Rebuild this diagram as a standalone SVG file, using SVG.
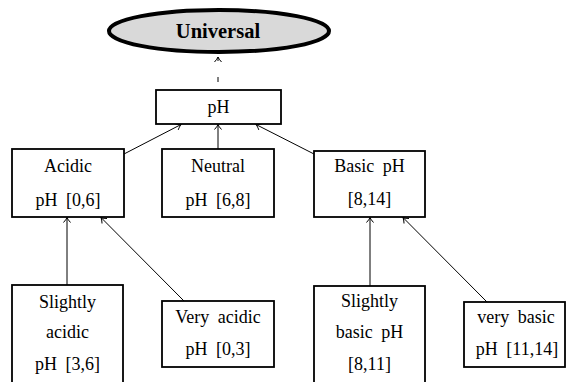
<svg xmlns="http://www.w3.org/2000/svg" width="568" height="382" viewBox="0 0 568 382">
<style>
.box{fill:#fff;stroke:#000;stroke-width:1.8}
.t{font-family:"Liberation Serif","Times New Roman",serif;font-size:18px;text-anchor:middle;fill:#000;word-spacing:4px}
.c{fill:none;stroke:#000;stroke-width:1}
</style>
<defs>
<marker id="ah" viewBox="-6 -5 8 10" markerWidth="8" markerHeight="10" refX="0" refY="0" orient="auto" markerUnits="userSpaceOnUse">
<path d="M-5,-3.5 Q-2,-0.8 0,0 Q-2,0.8 -5,3.5" fill="none" stroke="#000" stroke-width="1"/>
</marker>
</defs>
<g id="connectors">
<line class="c" x1="218" y1="89" x2="218" y2="57" stroke-dasharray="0,7,5,40" marker-end="url(#ah)"/>
<line class="c" x1="218" y1="61" x2="218" y2="57"/>
<line class="c" x1="124" y1="154" x2="181" y2="124.5" marker-end="url(#ah)"/>
<line class="c" x1="218" y1="149" x2="218" y2="124.5" marker-end="url(#ah)"/>
<line class="c" x1="314" y1="154" x2="256" y2="124.5" marker-end="url(#ah)"/>
<line class="c" x1="67" y1="285" x2="67" y2="217.5" marker-end="url(#ah)"/>
<line class="c" x1="184" y1="301" x2="101" y2="217.5" marker-end="url(#ah)"/>
<line class="c" x1="370" y1="286" x2="370" y2="217.5" marker-end="url(#ah)"/>
<line class="c" x1="487" y1="302" x2="403" y2="217.5" marker-end="url(#ah)"/>
</g>
<g id="universal">
<ellipse cx="219" cy="31" rx="110" ry="21" fill="#d9d9d9" stroke="#000" stroke-width="4"/>
<text x="218" y="38" class="t" style="font-weight:bold;font-size:20.5px">Universal</text>
</g>
<g id="ph">
<rect class="box" x="156" y="90" width="125" height="34"/>
<text x="218.5" y="113" class="t">pH</text>
</g>
<g id="acidic">
<rect class="box" x="12" y="149" width="112" height="68"/>
<text x="68" y="172" class="t">Acidic</text>
<text x="68" y="206" class="t">pH [0,6]</text>
</g>
<g id="neutral">
<rect class="box" x="162" y="149" width="112" height="68"/>
<text x="218" y="172" class="t">Neutral</text>
<text x="218" y="206" class="t">pH [6,8]</text>
</g>
<g id="basic">
<rect class="box" x="314" y="151" width="111" height="66"/>
<text x="369.5" y="172" class="t">Basic pH</text>
<text x="369.5" y="205" class="t">[8,14]</text>
</g>
<g id="slightly-acidic">
<rect class="box" x="12" y="285" width="111" height="110"/>
<text x="67.5" y="308" class="t">Slightly</text>
<text x="67.5" y="338" class="t">acidic</text>
<text x="67.5" y="370" class="t">pH [3,6]</text>
</g>
<g id="very-acidic">
<rect class="box" x="162" y="301" width="112" height="66"/>
<text x="218" y="323" class="t">Very acidic</text>
<text x="218" y="355" class="t">pH [0,3]</text>
</g>
<g id="slightly-basic">
<rect class="box" x="314" y="286" width="111" height="110"/>
<text x="369.5" y="307" class="t">Slightly</text>
<text x="369.5" y="338" class="t">basic pH</text>
<text x="369.5" y="370" class="t">[8,11]</text>
</g>
<g id="very-basic">
<rect class="box" x="464" y="302" width="101" height="65"/>
<text x="516" y="323" class="t">very basic</text>
<text x="517" y="355" class="t">pH [11,14]</text>
</g>
</svg>
